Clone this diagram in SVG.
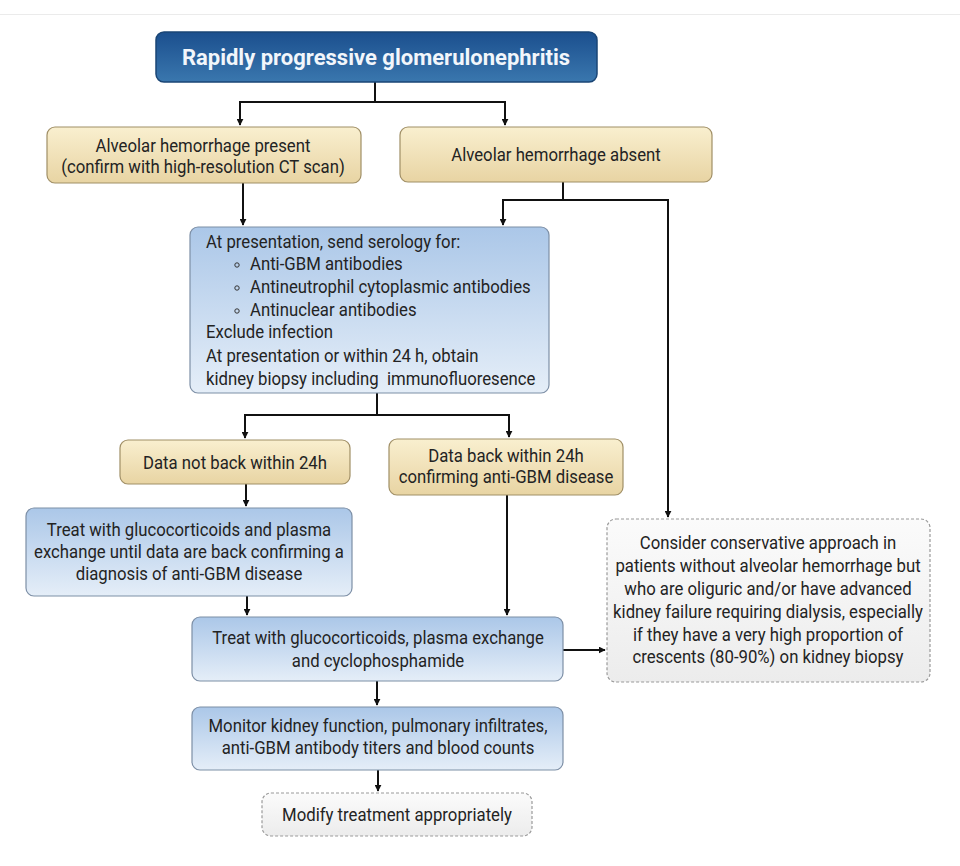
<svg xmlns="http://www.w3.org/2000/svg" width="960" height="866" viewBox="0 0 960 866">
<defs>
<linearGradient id="gTitle" x1="0" y1="0" x2="0" y2="1"><stop offset="0" stop-color="#1b4f8e"/><stop offset="1" stop-color="#3a77ae"/></linearGradient>
<linearGradient id="gTan" x1="0" y1="0" x2="0" y2="1"><stop offset="0" stop-color="#f9efcf"/><stop offset="1" stop-color="#e8d4a3"/></linearGradient>
<linearGradient id="gBlue" x1="0" y1="0" x2="0" y2="1"><stop offset="0" stop-color="#abc7e8"/><stop offset="1" stop-color="#e5eef8"/></linearGradient>
<linearGradient id="gGray" x1="0" y1="0" x2="0" y2="1"><stop offset="0" stop-color="#fbfbfb"/><stop offset="1" stop-color="#ececec"/></linearGradient>
<marker id="arr" viewBox="0 0 10 10" refX="9" refY="5" markerWidth="7" markerHeight="7" orient="auto" markerUnits="userSpaceOnUse"><path d="M0,0 L10,5 L0,10 z" fill="#111"/></marker>
</defs>
<style>
text{font-family:Roboto,"Liberation Sans",sans-serif;font-size:18px;fill:#232323}
.c{text-anchor:middle}
.title{fill:url(#gTitle);stroke:#1a4575;stroke-width:1.5}
.tan{fill:url(#gTan);stroke:#a08f66;stroke-width:1.2}
.blue{fill:url(#gBlue);stroke:#7d8fa6;stroke-width:1.2}
.gray{fill:url(#gGray);stroke:#9a9a9a;stroke-width:1.2;stroke-dasharray:3 2}
.ln{fill:none;stroke:#111;stroke-width:2}
.ar{fill:none;stroke:#111;stroke-width:2;marker-end:url(#arr)}
.bt{fill:none;stroke:#333;stroke-width:1}
</style>
<rect width="960" height="866" fill="#fff"/>
<line x1="0" y1="14.5" x2="960" y2="14.5" stroke="#ebebeb" stroke-width="1"/>

<g id="connectors">
<path class="ln" d="M375,82 V102 M240,102 H505"/>
<path class="ar" d="M240,101 V125"/>
<path class="ar" d="M505,101 V125"/>
<path class="ar" d="M243,183 V225"/>
<path class="ln" d="M563,182 V200 M503,200 H669"/>
<path class="ar" d="M503,199 V225"/>
<path class="ar" d="M668,199 V517"/>
<path class="ln" d="M377,393 V415 M245,415 H510"/>
<path class="ar" d="M245,414 V438"/>
<path class="ar" d="M509,414 V437"/>
<path class="ar" d="M246,484 V506"/>
<path class="ar" d="M247,596 V615"/>
<path class="ar" d="M507,495 V615"/>
<path class="ar" d="M563,650 H605"/>
<path class="ar" d="M377,681 V705"/>
<path class="ar" d="M378,770 V791"/>
</g>

<g id="n-title">
<rect class="title" x="156" y="32" width="441" height="50" rx="8"/>
<text class="c" x="376" y="65" style="font-size:22px;font-weight:bold;fill:#f2f6fb">Rapidly progressive glomerulonephritis</text>
</g>

<g id="n-present">
<rect class="tan" x="47" y="127" width="314" height="56" rx="8"/>
<g transform="translate(203,0) scale(0.93,1)">
<text class="c" x="0" y="152">Alveolar hemorrhage present</text>
<text class="c" x="0" y="173">(confirm with high-resolution CT scan)</text>
</g>
</g>

<g id="n-absent">
<rect class="tan" x="400" y="127" width="312" height="55" rx="8"/>
<g transform="translate(556,0) scale(0.93,1)">
<text class="c" x="0" y="161">Alveolar hemorrhage absent</text>
</g>
</g>

<g id="n-serology">
<rect class="blue" x="190" y="227" width="359" height="166" rx="8"/>
<circle class="bt" cx="237" cy="265" r="2.2"/>
<circle class="bt" cx="237" cy="288" r="2.2"/>
<circle class="bt" cx="237" cy="311" r="2.2"/>
<g transform="translate(206,0) scale(0.93,1)">
<text x="0" y="248">At presentation, send serology for:</text>
<text x="47.3" y="270">Anti-GBM antibodies</text>
<text x="47.3" y="293">Antineutrophil cytoplasmic antibodies</text>
<text x="47.3" y="316">Antinuclear antibodies</text>
<text x="0" y="338">Exclude infection</text>
<text x="0" y="362">At presentation or within 24 h, obtain</text>
<text x="0" y="385" xml:space="preserve">kidney biopsy including  immunofluoresence</text>
</g>
</g>

<g id="n-notback">
<rect class="tan" x="120" y="440" width="230" height="44" rx="8"/>
<g transform="translate(235,0) scale(0.93,1)">
<text class="c" x="0" y="469">Data not back within 24h</text>
</g>
</g>

<g id="n-back">
<rect class="tan" x="389" y="439" width="234" height="56" rx="8"/>
<g transform="translate(506,0) scale(0.93,1)">
<text class="c" x="0" y="462">Data back within 24h</text>
<text class="c" x="0" y="483">confirming anti-GBM disease</text>
</g>
</g>

<g id="n-treat1">
<rect class="blue" x="26" y="508" width="326" height="88" rx="8"/>
<g transform="translate(189,0) scale(0.93,1)">
<text class="c" x="0" y="536">Treat with glucocorticoids and plasma</text>
<text class="c" x="0" y="558">exchange until data are back confirming a</text>
<text class="c" x="0" y="580">diagnosis of anti-GBM disease</text>
</g>
</g>

<g id="n-treat2">
<rect class="blue" x="192" y="617" width="371" height="64" rx="8"/>
<g transform="translate(378,0) scale(0.93,1)">
<text class="c" x="0" y="644">Treat with glucocorticoids, plasma exchange</text>
<text class="c" x="0" y="667">and cyclophosphamide</text>
</g>
</g>

<g id="n-conservative">
<rect class="gray" x="607" y="519" width="323" height="163" rx="9"/>
<g transform="translate(768,0) scale(0.93,1)">
<text class="c" x="0" y="549">Consider conservative approach in</text>
<text class="c" x="0" y="572">patients without alveolar hemorrhage but</text>
<text class="c" x="0" y="595">who are oliguric and/or have advanced</text>
<text class="c" x="0" y="618">kidney failure requiring dialysis, especially</text>
<text class="c" x="0" y="641">if they have a very high proportion of</text>
<text class="c" x="0" y="663">crescents (80-90%) on kidney biopsy</text>
</g>
</g>

<g id="n-monitor">
<rect class="blue" x="192" y="707" width="371" height="63" rx="8"/>
<g transform="translate(378,0) scale(0.93,1)">
<text class="c" x="0" y="732">Monitor kidney function, pulmonary infiltrates,</text>
<text class="c" x="0" y="754">anti-GBM antibody titers and blood counts</text>
</g>
</g>

<g id="n-modify">
<rect class="gray" x="262" y="793" width="270" height="43" rx="9"/>
<g transform="translate(397,0) scale(0.93,1)">
<text class="c" x="0" y="821">Modify treatment appropriately</text>
</g>
</g>
</svg>
